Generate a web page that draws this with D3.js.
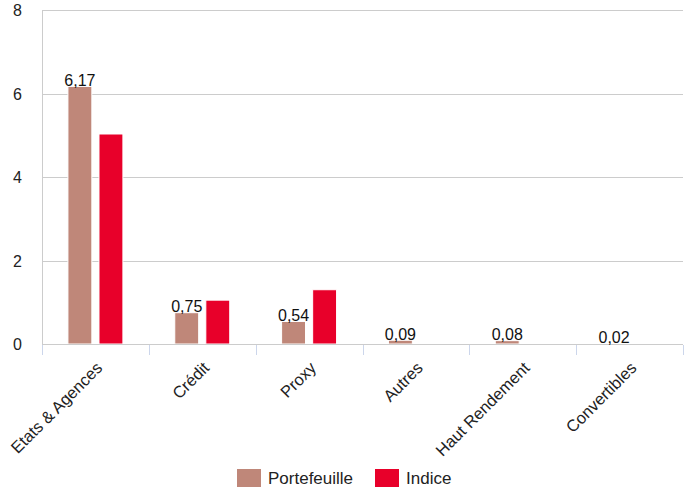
<!DOCTYPE html>
<html><head><meta charset="utf-8">
<script src="https://cdn.jsdelivr.net/npm/d3@7"></script>
<style>body{margin:0;background:#fff;} text{font-family:"Liberation Sans",Arial,Helvetica,sans-serif;}</style>
</head><body>
<svg id="c" width="693" height="490"></svg>
<script>
const categories = ["Etats & Agences","Crédit","Proxy","Autres","Haut Rendement","Convertibles"];
const portefeuille = [6.17,0.75,0.54,0.09,0.08,0.02];
const indice = [5.03,1.05,1.30,0,0,0];
const portLabels = ["6,17","0,75","0,54","0,09","0,08","0,02"];
const yTicks = [0,2,4,6,8];
const seriesNames = ["Portefeuille","Indice"];
const colors = ["#bf8779","#e8002a"];

const svg = d3.select("#c");
const m = {l:42, r:683, t:10, b:344};
const x = d3.scaleBand().domain(categories).range([m.l, m.r]);
const y = d3.scaleLinear().domain([0,8]).range([m.b, m.t]);
const inner = d3.scaleBand().domain(seriesNames).range([0, x.bandwidth()]).paddingInner(0.23).paddingOuter(0.835);

// gridlines
svg.append("g").selectAll("line").data(yTicks.filter(d=>d>0)).join("line")
  .attr("x1",m.l).attr("x2",m.r).attr("y1",d=>Math.round(y(d))+0.5).attr("y2",d=>Math.round(y(d))+0.5)
  .attr("stroke","#cccccc").attr("stroke-width",1);

// y labels
svg.append("g").selectAll("text").data(yTicks).join("text")
  .attr("x",22).attr("y",d=>y(d)+6).attr("text-anchor","end")
  .attr("font-size",16).attr("fill","#222").text(d=>d);

// left axis line
svg.append("line").attr("x1",m.l+0.5).attr("x2",m.l+0.5).attr("y1",m.t).attr("y2",m.b).attr("stroke","#cccccc");

// bars
const data = categories.map((c,i)=>({c, vals:[portefeuille[i], indice[i]]}));
const g = svg.append("g");
data.forEach((d,i)=>{
  d.vals.forEach((v,j)=>{
    if (v<=0) return;
    g.append("rect")
      .attr("x", x(d.c)+inner(seriesNames[j]))
      .attr("y", y(v))
      .attr("width", inner.bandwidth())
      .attr("height", Math.max(0, y(0)-y(v)))
      .attr("fill", colors[j])
      .attr("stroke","#fff").attr("stroke-width",1);
  });
});

// x axis line and ticks
svg.append("line").attr("x1",m.l).attr("x2",m.r).attr("y1",m.b+0.5).attr("y2",m.b+0.5).attr("stroke","#cccccc");
const tickPos = categories.map(c=>x(c)).concat([m.r]);
svg.append("g").selectAll("line").data(tickPos).join("line")
  .attr("x1",d=>Math.round(d)+0.5).attr("x2",d=>Math.round(d)+0.5)
  .attr("y1",m.b+1).attr("y2",m.b+11).attr("stroke","#ccd6eb");

// data labels
svg.append("g").selectAll("text").data(categories).join("text")
  .attr("x",(c,i)=>x(c)+inner(seriesNames[0])+inner.bandwidth()/2)
  .attr("y",(c,i)=>y(portefeuille[i])-0.5)
  .attr("text-anchor","middle").attr("font-size",16).attr("fill","#111")
  .text((c,i)=>portLabels[i]);

// x labels
svg.append("g").selectAll("text").data(categories).join("text")
  .attr("transform",c=>`translate(${x(c)+x.bandwidth()/2+8},${m.b+25}) rotate(-45)`)
  .attr("text-anchor","end").attr("font-size",16.5).attr("fill","#222")
  .text(c=>c);

// legend
const leg = svg.append("g");
const legX = [237, 375];
seriesNames.forEach((s,j)=>{
  leg.append("rect").attr("x",legX[j]).attr("y",469).attr("width",24).attr("height",18).attr("fill",colors[j]);
  leg.append("text").attr("x",legX[j]+31).attr("y",484).attr("font-size",17).attr("fill","#222").text(s);
});
</script>
</body></html>
